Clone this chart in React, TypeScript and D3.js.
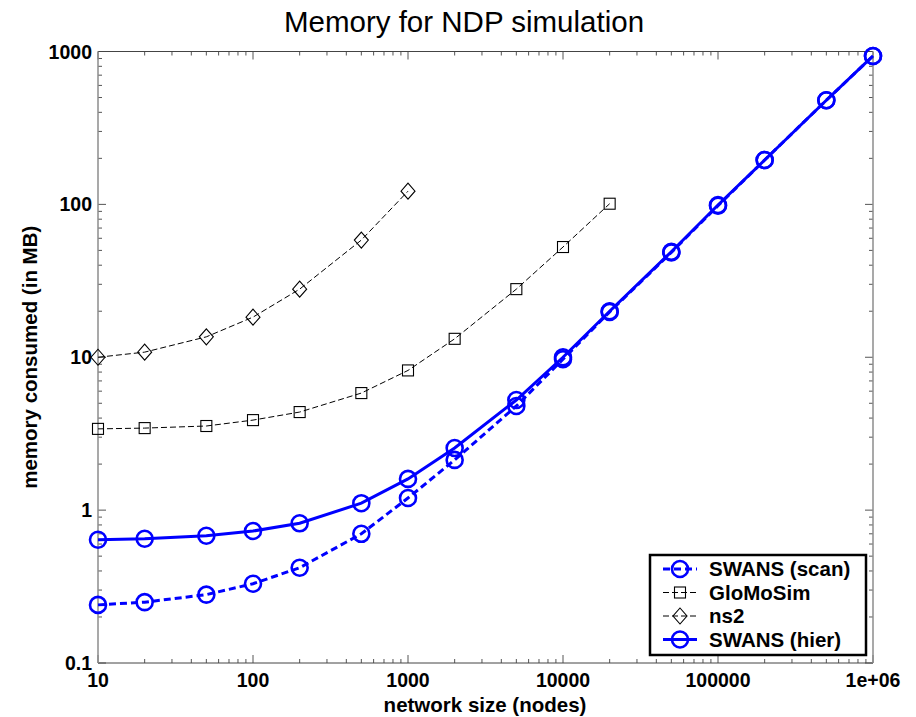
import React from "react";
import * as d3 from "d3";

// network sizes (nodes)
const sizesFull = [10, 20, 50, 100, 200, 500, 1000, 2000, 5000, 10000, 20000, 50000, 100000, 200000, 500000, 1000000];
const sizesGlomo = [10, 20, 50, 100, 200, 500, 1000, 2000, 5000, 10000, 20000];
const sizesNs2 = [10, 20, 50, 100, 200, 500, 1000];

// memory consumed (MB)
const swansScan = [0.24, 0.25, 0.28, 0.33, 0.42, 0.70, 1.2, 2.13, 4.8, 9.7, 19.8, 48.5, 98, 195, 480, 935];
const swansHier = [0.64, 0.65, 0.68, 0.73, 0.82, 1.11, 1.6, 2.55, 5.25, 10.0, 20.0, 49, 99, 195, 480, 935];
const glomosim = [3.4, 3.44, 3.55, 3.88, 4.38, 5.83, 8.2, 13.2, 27.9, 52.6, 101];
const ns2 = [10.0, 10.8, 13.6, 18.3, 27.9, 58.4, 122];

const xTickLabels = ["10", "100", "1000", "10000", "100000", "1e+06"];
const yTickLabels = ["0.1", "1", "10", "100", "1000"];

const W = 916;
const H = 717;
const L = 98, R = 873, T = 51.5, B = 663;
const FONT = "'Liberation Sans', Arial, Helvetica, sans-serif";
const BLUE = "#0000ff";

type Series = {
  name: string;
  xs: number[];
  ys: number[];
  color: string;
  width: number;
  dash: string | null;
  marker: "circle" | "square" | "diamond";
};

const series: Series[] = [
  { name: "SWANS (scan)", xs: sizesFull, ys: swansScan, color: BLUE, width: 3, dash: "7,4", marker: "circle" },
  { name: "GloMoSim", xs: sizesGlomo, ys: glomosim, color: "#000", width: 1, dash: "6,3", marker: "square" },
  { name: "ns2", xs: sizesNs2, ys: ns2, color: "#000", width: 1, dash: "6,3", marker: "diamond" },
  { name: "SWANS (hier)", xs: sizesFull, ys: swansHier, color: BLUE, width: 3, dash: null, marker: "circle" },
];

function Marker({ kind, x, y, color }: { kind: Series["marker"]; x: number; y: number; color: string }) {
  if (kind === "circle") {
    return <circle cx={x} cy={y} r={8} fill="none" stroke={color} strokeWidth={2.6} />;
  }
  if (kind === "square") {
    return <rect x={x - 5.5} y={y - 5.5} width={11} height={11} fill="none" stroke={color} strokeWidth={1.1} />;
  }
  return (
    <path
      d={`M${x},${y - 8}L${x + 7},${y}L${x},${y + 8}L${x - 7},${y}Z`}
      fill="none"
      stroke={color}
      strokeWidth={1.1}
    />
  );
}

export default function App() {
  const x = d3.scaleLog().domain([10, 1e6]).range([L, R]);
  const y = d3.scaleLog().domain([0.1, 1000]).range([B, T]);

  const xMajor = xTickLabels.map((_, i) => Math.pow(10, i + 1));
  const yMajor = yTickLabels.map((_, i) => Math.pow(10, i - 1));
  const xMinor: number[] = [];
  for (let d = 1; d < 6; d++) for (let m = 2; m <= 9; m++) xMinor.push(m * Math.pow(10, d));
  const yMinor: number[] = [];
  for (let d = -1; d < 3; d++) for (let m = 2; m <= 9; m++) yMinor.push(m * Math.pow(10, d));

  const line = d3
    .line<[number, number]>()
    .x((d) => x(d[0]))
    .y((d) => y(d[1]));

  const tickColor = "#555";
  const frameColor = "#8c8c8c";

  return (
    <svg width={W} height={H} style={{ display: "block", position: "absolute", left: 0, top: 0 }} fontFamily={FONT}>
      <rect width={W} height={H} fill="#fff" />

      {/* ticks on all four sides, pointing inward */}
      <g stroke={tickColor} strokeWidth={1}>
        {xMajor.map((v) => (
          <g key={"xM" + v}>
            <line x1={x(v)} x2={x(v)} y1={B} y2={B - 8} />
            <line x1={x(v)} x2={x(v)} y1={T} y2={T + 8} />
          </g>
        ))}
        {xMinor.map((v) => (
          <g key={"xm" + v}>
            <line x1={x(v)} x2={x(v)} y1={B} y2={B - 4} />
            <line x1={x(v)} x2={x(v)} y1={T} y2={T + 4} />
          </g>
        ))}
        {yMajor.map((v) => (
          <g key={"yM" + v}>
            <line x1={L} x2={L + 8} y1={y(v)} y2={y(v)} />
            <line x1={R} x2={R - 8} y1={y(v)} y2={y(v)} />
          </g>
        ))}
        {yMinor.map((v) => (
          <g key={"ym" + v}>
            <line x1={L} x2={L + 4} y1={y(v)} y2={y(v)} />
            <line x1={R} x2={R - 4} y1={y(v)} y2={y(v)} />
          </g>
        ))}
      </g>

      {/* frame */}
      <line x1={L} x2={R} y1={T} y2={T} stroke="#444" strokeWidth={1} />
      <line x1={L} x2={R} y1={B} y2={B} stroke="#444" strokeWidth={1} />
      <line x1={L} x2={L} y1={T} y2={B} stroke={frameColor} strokeWidth={1.5} />
      <line x1={R} x2={R} y1={T} y2={B} stroke={frameColor} strokeWidth={1.5} />

      {/* tick labels */}
      <g fontWeight="bold" fontSize={19.5} fill="#000">
        {xMajor.map((v, i) => (
          <text key={"xl" + v} x={x(v)} y={687} textAnchor="middle">
            {xTickLabels[i]}
          </text>
        ))}
        {yMajor.map((v, i) => (
          <text key={"yl" + v} x={92} y={y(v) + 7} textAnchor="end">
            {yTickLabels[i]}
          </text>
        ))}
      </g>

      {/* series */}
      {series.map((s) => {
        const pts: [number, number][] = s.xs.map((xv, i) => [xv, s.ys[i]]);
        return (
          <g key={s.name}>
            <path
              d={line(pts) ?? ""}
              fill="none"
              stroke={s.color}
              strokeWidth={s.width}
              strokeDasharray={s.dash ?? undefined}
            />
            {pts.map((p, i) => (
              <Marker key={i} kind={s.marker} x={x(p[0])} y={y(p[1])} color={s.color} />
            ))}
          </g>
        );
      })}

      {/* title and axis labels */}
      <text x={464} y={32} textAnchor="middle" fontSize={29.5} fill="#000">
        Memory for NDP simulation
      </text>
      <text x={485} y={712} textAnchor="middle" fontSize={20.5} fontWeight="bold" fill="#000">
        network size (nodes)
      </text>
      <text
        transform={`translate(37,${(T + B) / 2}) rotate(-90)`}
        textAnchor="middle"
        fontSize={20.5}
        fontWeight="bold"
        fill="#000"
      >
        memory consumed (in MB)
      </text>

      {/* legend */}
      <g>
        <rect x={650} y={555} width={216} height={100} fill="#fff" stroke="#000" strokeWidth={2.5} />
        {series.map((s, i) => {
          const cy = 569 + i * 23.5;
          return (
            <g key={"lg" + s.name}>
              <line
                x1={663}
                x2={697}
                y1={cy}
                y2={cy}
                stroke={s.color}
                strokeWidth={s.width}
                strokeDasharray={s.dash ?? undefined}
              />
              <Marker kind={s.marker} x={680} y={cy} color={s.color} />
              <text x={709} y={cy + 7} fontSize={20.5} fontWeight="bold" fill="#000">
                {s.name}
              </text>
            </g>
          );
        })}
      </g>
    </svg>
  );
}
